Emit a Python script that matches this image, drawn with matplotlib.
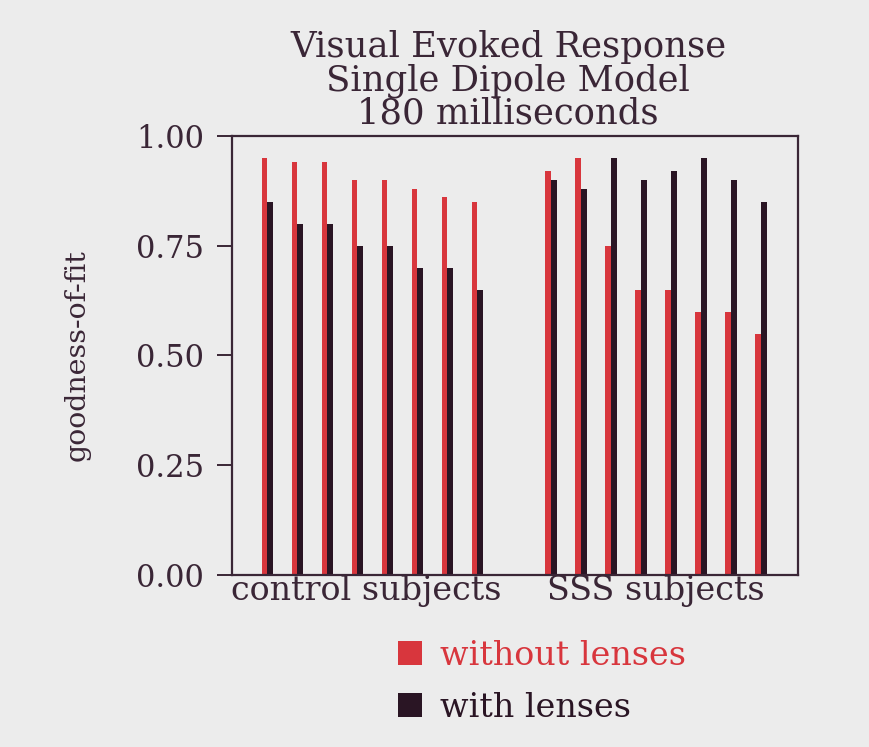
import numpy as np
import matplotlib
matplotlib.use("Agg")
import matplotlib.pyplot as plt

# goodness-of-fit values
control_without = [0.95, 0.94, 0.94, 0.90, 0.90, 0.88, 0.86, 0.85]
control_with = [0.85, 0.80, 0.80, 0.75, 0.75, 0.70, 0.70, 0.65]
sss_without = [0.92, 0.95, 0.75, 0.65, 0.65, 0.60, 0.60, 0.55]
sss_with = [0.90, 0.88, 0.95, 0.90, 0.92, 0.95, 0.90, 0.85]
groups = ["control subjects", "SSS subjects"]
yticks = [0.00, 0.25, 0.50, 0.75, 1.00]

red = "#d8363d"
dark = "#2a1524"
ink = "#3a2636"
bg = "#ececec"

fig = plt.figure(figsize=(8.7, 7.47), dpi=100, facecolor=bg)
ax = fig.add_axes([0.2667, 0.2303, 0.6506, 0.5877], facecolor=bg)

pos_c = np.arange(len(control_without))
pos_s = np.arange(len(sss_without)) + 9.45

ax.bar(pos_c, control_without, width=-0.17, align="edge", color=red, label="without lenses")
ax.bar(pos_c, control_with, width=0.2, align="edge", color=dark, label="with lenses")
ax.bar(pos_s, sss_without, width=-0.17, align="edge", color=red)
ax.bar(pos_s, sss_with, width=0.2, align="edge", color=dark)

ax.set_xlim(-1.17, 17.7)
ax.set_ylim(0, 1.0)

for s in ax.spines.values():
    s.set_color(ink)
    s.set_linewidth(1.6)

ax.set_yticks(yticks)
ax.set_yticklabels(["%.2f" % v for v in yticks], family="DejaVu Serif", fontsize=22, color=ink)
ax.tick_params(axis="y", length=11, width=1.4, color=ink, pad=9)

ax.set_xticks([(pos_c[0] + pos_c[-1]) / 2 - 0.2, (pos_s[0] + pos_s[-1]) / 2])
ax.set_xticklabels(groups, family="DejaVu Serif", fontsize=24, color=ink)
ax.tick_params(axis="x", length=0, pad=0)

ax.set_ylabel("goodness-of-fit", family="DejaVu Serif", fontsize=20.5, color=ink)
ax.yaxis.set_label_coords(-0.25, 0.5)

fig.text(0.584, 0.96, "Visual Evoked Response\nSingle Dipole Model\n180 milliseconds",
         ha="center", va="top", family="DejaVu Serif", fontsize=25.5, color=ink,
         linespacing=0.97)

leg = ax.legend(loc="upper left", bbox_to_anchor=(398 / 870, 1 - 640 / 747),
                bbox_transform=fig.transFigure, frameon=False, borderpad=0,
                borderaxespad=0, handlelength=0.72, handleheight=0.72,
                handletextpad=0.55, labelspacing=0.6,
                prop={"family": "DejaVu Serif", "size": 24})
for t, c in zip(leg.get_texts(), [red, dark]):
    t.set_color(c)

fig.savefig("out.png", dpi=100, facecolor=bg)
